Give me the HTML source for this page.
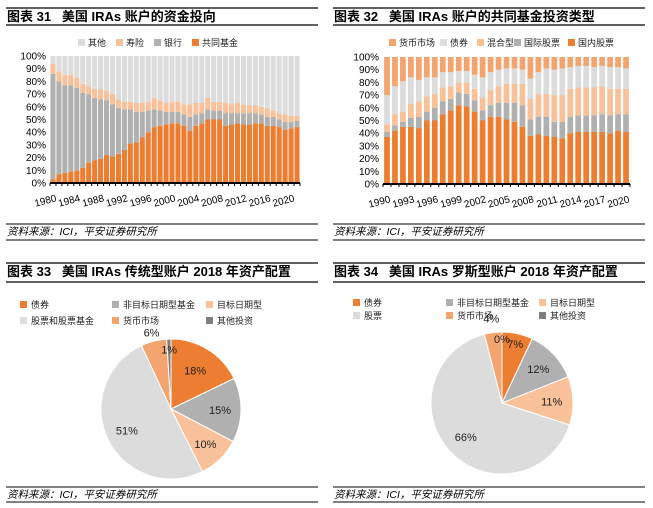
<!DOCTYPE html>
<html><head><meta charset="utf-8">
<style>
body{margin:0;background:#fff;width:653px;height:508px;overflow:hidden;font-family:"Liberation Sans","Noto Sans CJK SC",sans-serif}
svg{position:absolute;left:0;top:0}
text{white-space:pre}
</style></head>
<body>
<svg id="s" width="653" height="508" viewBox="0 0 653 508"></svg>
<script>
const yearsA=[1980,1981,1982,1983,1984,1985,1986,1987,1988,1989,1990,1991,1992,1993,1994,1995,1996,1997,1998,1999,2000,2001,2002,2003,2004,2005,2006,2007,2008,2009,2010,2011,2012,2013,2014,2015,2016,2017,2018,2019,2020,2021];
const mfA=[3,7,8,9,10,12,16,18,19,22,21,23,26,31,32,36,40,44,45,46,47,47,45,41,45,47,50,50,50,45,46,47,46,46,47,47,45,45,44,42,43,44];
const bankA=[83,73,69,68,65,59,54,49,47,43,41,36,32,27,24,20,17,14,12,10,9,9,9,11,9,8,8,7,7,10,9,8,9,9,8,7,7,7,6,6,5,5];
const insA=[8,8,8,8,8,7,6,7,8,8,8,7,6,6,7,7,7,9,8,7,8,8,8,10,9,8,9,7,7,8,7,8,7,6,6,6,7,5,5,6,5,4];
const tickA=["1980","1984","1988","1992","1996","2000","2004","2008","2012","2016","2020"];
const yearsB=[1990,1991,1992,1993,1994,1995,1996,1997,1998,1999,2000,2001,2002,2003,2004,2005,2006,2007,2008,2009,2010,2011,2012,2013,2014,2015,2016,2017,2018,2019,2020];
const domB=[37,42,45,45,44,50,50,55,58,62,61,57,50,53,53,51,49,45,38,39,38,37,36,40,41,41,41,41,40,42,41];
const intlB=[4,4,4,7,9,7,10,10,9,10,10,9,8,9,11,13,15,17,13,14,15,12,13,13,13,13,13,14,14,13,14];
const hybB=[6,9,8,11,12,12,11,11,10,8,9,9,10,12,13,15,15,17,16,18,18,21,21,22,22,22,22,22,21,20,20];
const bondB=[23,22,24,21,17,15,13,12,11,9,9,11,16,14,13,12,12,11,16,17,20,20,21,17,17,17,16,16,17,17,16];
const tickB=["1990","1993","1996","1999","2002","2005","2008","2011","2014","2017","2020"];
const pieCLabels=["债券","非目标日期型基金","目标日期型","股票和股票基金","货币市场","其他投资"];
const pieCVals=[18,15,10,51,6,1];
const pieDLabels=["债券","非目标日期型基金","目标日期型","股票","货币市场","其他投资"];
const pieDVals=[7,12,11,66,4,0];

const S=document.getElementById('s');const NS='http://www.w3.org/2000/svg';
function el(t,a,txt){const e=document.createElementNS(NS,t);for(const k in a)e.setAttribute(k,a[k]);if(txt!=null)e.textContent=txt;S.appendChild(e);return e;}
const C={or:'#ED7D31',gr:'#B0B0B0',lo:'#F8C199',lg:'#DCDCDC',mm:'#F3A46F',dg:'#7F7F7F'};

function frame(x,y1,y2,title,sy1,sy2,id){
  let e=el('line',{x1:x,y1:y1,x2:x+312,y2:y1,stroke:'#000','stroke-width':1.2});
  
  e=el('text',{x:x+1,y:y1+13,'font-size':13,'font-weight':'bold',fill:'#000'},title);
  
  e=el('line',{x1:x,y1:y2,x2:x+312,y2:y2,stroke:'#000','stroke-width':1.2});
  
  e=el('line',{x1:x,y1:sy1,x2:x+312,y2:sy1,stroke:'#000','stroke-width':1});
  
  e=el('text',{x:x+1,y:sy1+11,'font-size':10.5,'font-style':'italic',fill:'#000'},'资料来源：ICI，平安证券研究所');
  
  e=el('line',{x1:x,y1:sy2,x2:x+312,y2:sy2,stroke:'#000','stroke-width':1});
  
}
frame(6,8,25,'图表 31   美国 IRAs 账户的资金投向',224,240,'chart31');
frame(333,8,25,'图表 32   美国 IRAs 账户的共同基金投资类型',224,240,'chart32');
frame(6,263,282,'图表 33   美国 IRAs 传统型账户 2018 年资产配置',487,502,'chart33');
frame(333,263,282,'图表 34   美国 IRAs 罗斯型账户 2018 年资产配置',487,502,'chart34');

function legend(items,x0,y,id){items.forEach(([lab,col,x])=>{
  let r=el('rect',{x:x,y:y-6,width:7,height:7,fill:col});
  
  let t=el('text',{x:x+10,y:y+1,'font-size':9,fill:'#222'},lab);
  });}

function stacked(id,X0,X1,Y0,Y1,n,layers,ticks,step,fw){
  const y=v=>Y0-(v/100)*(Y0-Y1);
  const bw=(X1-X0)/n;
  for(let p=0;p<=100;p+=10){
    let t=el('text',{x:X0-4,y:y(p)+3.5,'font-size':10,'text-anchor':'end',fill:'#000'},p+'%');
    
  }
  for(let i=0;i<n;i++){
    let acc=0;const bx=X0+i*bw+bw*(1-fw)/2,w=bw*fw;
    layers.forEach(([arr,col,nm])=>{
      const v=arr?arr[i]:100-acc;
      const r=el('rect',{x:bx,y:y(acc+v),width:w,height:Math.max(0,y(acc)-y(acc+v)),fill:col});
      
      acc+=v;});
  }
  let a=el('line',{x1:X0,y1:Y0,x2:X1,y2:Y0,stroke:'#000','stroke-width':2});
  
  for(let i=0;i<=n;i++){let tk=el('line',{x1:X0+i*bw,y1:Y0,x2:X0+i*bw,y2:Y0+3,stroke:'#000','stroke-width':1});
    }
  ticks.forEach((lab,k)=>{const cx=X0+(k*step+0.5)*bw;
    let t=el('text',{x:cx+4,y:Y0+18,'font-size':10,'text-anchor':'end',transform:`rotate(-15 ${cx+4} ${Y0+18})`,fill:'#000'},lab);
    });
}
legend([['其他',C.lg,78],['寿险',C.lo,116],['银行',C.gr,154],['共同基金',C.or,192]],0,45,'chart31');
stacked('chart31',50,300,183,56,yearsA.length,[[mfA,C.or,'mutual-fund'],[bankA,C.gr,'bank'],[insA,C.lo,'insurance'],[null,C.lg,'other']],tickA,4,0.85);
legend([['货币市场',C.mm,389],['债券',C.lg,440],['混合型',C.lo,477],['国际股票',C.gr,514],['国内股票',C.or,568]],0,45,'chart32');
stacked('chart32',383,630,184,57,yearsB.length,[[domB,C.or,'domestic-equity'],[intlB,C.gr,'intl-equity'],[hybB,C.lo,'hybrid'],[bondB,C.lg,'bond'],[null,C.mm,'money-market']],tickB,3,0.72);

function pie(id,cx,cy,r,vals,labels,cols,lpos,legPos){
  const tot=vals.reduce((a,b)=>a+b,0);let a0=-Math.PI/2;
  vals.forEach((v,i)=>{const a1=a0+v/tot*2*Math.PI;
    if(v>0){const large=(a1-a0)>Math.PI?1:0;
      const d=`M${cx},${cy}L${cx+r*Math.cos(a0)},${cy+r*Math.sin(a0)}A${r},${r} 0 ${large} 1 ${cx+r*Math.cos(a1)},${cy+r*Math.sin(a1)}Z`;
      const p=el('path',{d:d,fill:cols[i],stroke:'#fff','stroke-width':1});
      }
    const mid=(a0+a1)/2,f=lpos[i];
    const t=el('text',{x:cx+r*f*Math.cos(mid),y:cy+r*f*Math.sin(mid)+4,'font-size':11,'text-anchor':'middle',fill:'#222'},v+'%');
    
    a0=a1;});
  labels.forEach((l,i)=>{const [x,y]=legPos[i];
    let r2=el('rect',{x:x,y:y-6,width:7,height:7,fill:cols[i]});
    
    let t=el('text',{x:x+11,y:y+1,'font-size':9,fill:'#222'},l);
    });
}
const pc=[C.or,C.gr,C.lo,C.lg,C.mm,C.dg];
pie('chart33',171,409,70,pieCVals,pieCLabels,pc,[0.65,0.7,0.7,0.7,1.13,0.85],[[20,307],[112,307],[206,307],[20,323],[112,323],[206,323]]);
pie('chart34',502,403,71,pieDVals,pieDLabels,pc,[0.85,0.7,0.7,0.7,1.2,0.9],[[353,305],[446,305],[539,305],[353,318],[446,318],[539,318]]);
</script>
</body></html>
